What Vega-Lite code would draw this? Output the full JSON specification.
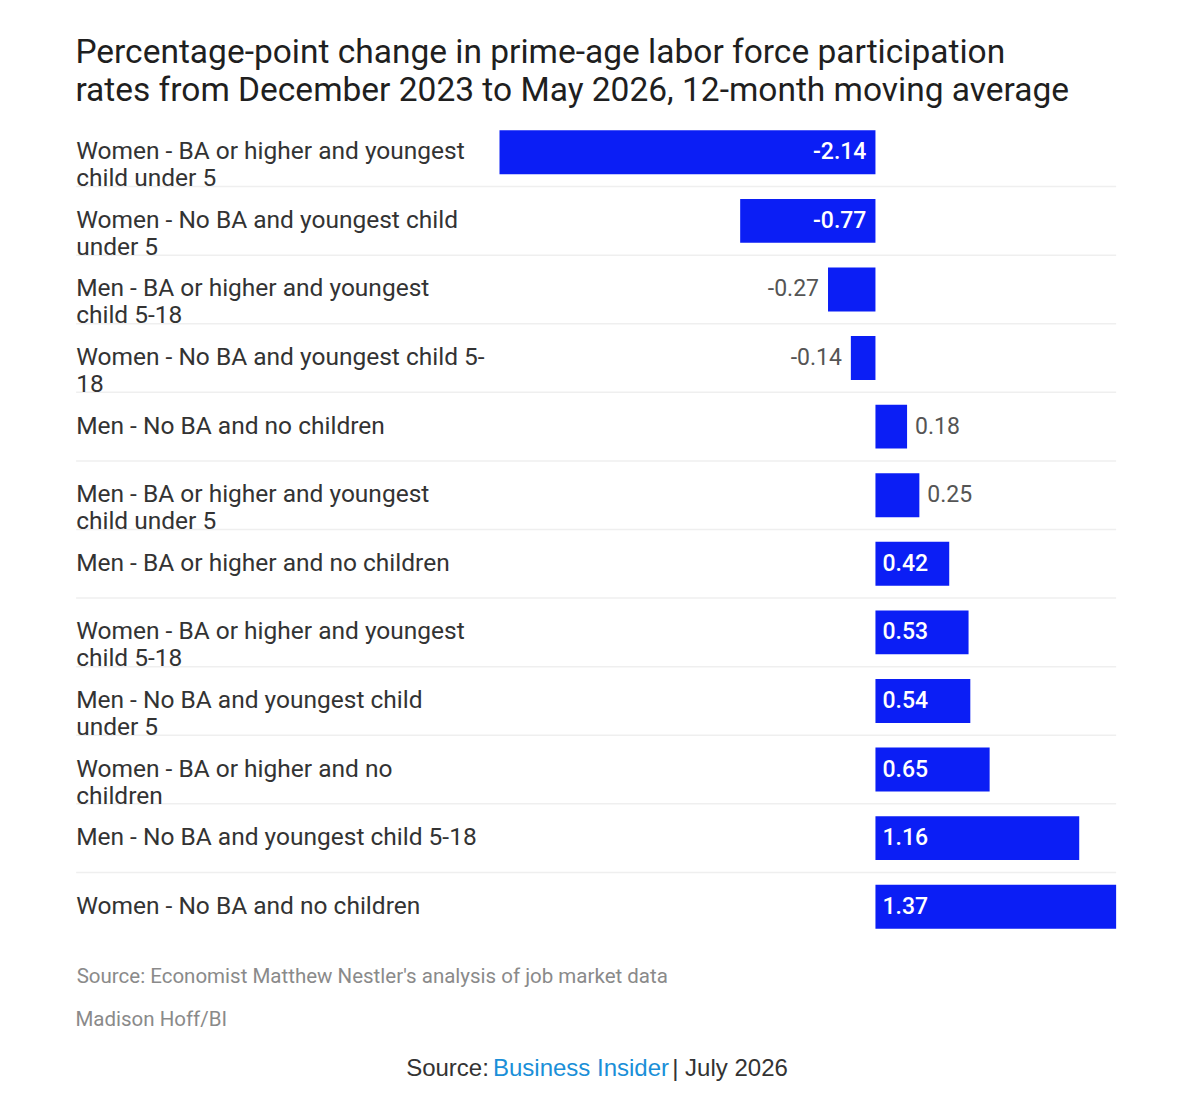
{
  "$schema": "https://vega.github.io/schema/vega-lite/v6.json",
  "background": "white",
  "padding": {"left": 75, "top": 35, "right": 71, "bottom": 10},
  "title": {
    "text": ["Percentage-point change in prime-age labor force participation", "rates from December 2023 to May 2026, 12-month moving average"],
    "anchor": "start",
    "font": "Roboto",
    "fontSize": 33.5,
    "fontWeight": "normal",
    "color": "#1f1f1f",
    "lineHeight": 38,
    "offset": 10
  },
  "center": true,
  "spacing": 24,
  "vconcat": [
    {
      "width": 1040,
      "height": 823,
      "data": {
        "values": [
          {"group": "Women - BA or higher and youngest\nchild under 5", "value": -2.14},
          {"group": "Women - No BA and youngest child\nunder 5", "value": -0.77},
          {"group": "Men - BA or higher and youngest\nchild 5-18", "value": -0.27},
          {"group": "Women - No BA and youngest child 5-\n18", "value": -0.14},
          {"group": "Men - No BA and no children", "value": 0.18},
          {"group": "Men - BA or higher and youngest\nchild under 5", "value": 0.25},
          {"group": "Men - BA or higher and no children", "value": 0.42},
          {"group": "Women - BA or higher and youngest\nchild 5-18", "value": 0.53},
          {"group": "Men - No BA and youngest child\nunder 5", "value": 0.54},
          {"group": "Women - BA or higher and no\nchildren", "value": 0.65},
          {"group": "Men - No BA and youngest child 5-18", "value": 1.16},
          {"group": "Women - No BA and no children", "value": 1.37}
        ]
      },
      "title": {
        "text": "Madison Hoff/BI",
        "orient": "bottom",
        "anchor": "start",
        "font": "Roboto",
        "fontSize": 20.5,
        "fontWeight": "normal",
        "color": "#8a8a8a",
        "offset": 23
      },
      "encoding": {
        "y": {
          "field": "group",
          "type": "nominal",
          "sort": null,
          "scale": {"paddingInner": 0, "paddingOuter": 0},
          "axis": null
        }
      },
      "layer": [
        {
          "transform": [{"filter": "datum.group !== 'Women - No BA and no children'"}],
          "mark": {"type": "rule", "color": "#efefef", "strokeWidth": 1.5},
          "encoding": {
            "y": {"field": "group", "type": "nominal", "sort": null, "bandPosition": 1}
          }
        },
        {
          "mark": {"type": "bar", "color": "#0b1ef5", "height": {"band": 0.64}},
          "encoding": {
            "x": {
              "field": "value",
              "type": "quantitative",
              "scale": {"domain": [-4.55, 1.37], "nice": false, "zero": false},
              "axis": {
                "labels": false,
                "ticks": false,
                "domain": false,
                "grid": false,
                "title": "Source: Economist Matthew Nestler's analysis of job market data",
                "titleAnchor": "start",
                "titleAlign": "left",
                "titleFont": "Roboto",
                "titleFontSize": 20.5,
                "titleFontWeight": "normal",
                "titleColor": "#8a8a8a",
                "titlePadding": 25
              }
            }
          }
        },
        {
          "mark": {"type": "rule", "color": "#6e6e6e", "strokeWidth": 2},
          "encoding": {"x": {"datum": 0}}
        },
        {
          "mark": {"type": "text", "align": "left", "baseline": "middle", "font": "Roboto", "fontSize": 24.5, "lineHeight": 27, "lineBreak": "\n", "color": "#333333"},
          "encoding": {
            "x": {"datum": -4.55},
            "text": {"field": "group", "type": "nominal"}
          }
        },
        {
          "transform": [{"filter": "datum.value < -0.5"}],
          "mark": {"type": "text", "align": "right", "baseline": "middle", "dx": -9, "font": "Roboto", "fontSize": 23, "fontWeight": 500, "color": "white"},
          "encoding": {
            "x": {"datum": 0},
            "text": {"field": "value", "type": "nominal"}
          }
        },
        {
          "transform": [{"filter": "datum.value >= -0.5 && datum.value < 0"}],
          "mark": {"type": "text", "align": "right", "baseline": "middle", "dx": -9, "font": "Roboto", "fontSize": 23, "color": "#555555"},
          "encoding": {
            "x": {"field": "value", "type": "quantitative"},
            "text": {"field": "value", "type": "nominal"}
          }
        },
        {
          "transform": [{"filter": "datum.value >= 0 && datum.value < 0.4"}],
          "mark": {"type": "text", "align": "left", "baseline": "middle", "dx": 8, "font": "Roboto", "fontSize": 23, "color": "#555555"},
          "encoding": {
            "x": {"field": "value", "type": "quantitative"},
            "text": {"field": "value", "type": "nominal"}
          }
        },
        {
          "transform": [{"filter": "datum.value >= 0.4"}],
          "mark": {"type": "text", "align": "left", "baseline": "middle", "dx": 7, "font": "Roboto", "fontSize": 23, "fontWeight": 500, "color": "white"},
          "encoding": {
            "x": {"datum": 0},
            "text": {"field": "value", "type": "nominal"}
          }
        }
      ]
    },
    {
      "spacing": 0,
      "hconcat": [
        {
          "width": 89,
          "height": 30,
          "data": {"values": [{"t": "Source:"}]},
          "mark": {"type": "text", "align": "center", "baseline": "middle", "font": "Liberation Sans", "fontSize": 24, "color": "#333333"},
          "encoding": {"text": {"field": "t", "type": "nominal"}}
        },
        {
          "width": 178,
          "height": 30,
          "data": {"values": [{"t": "Business Insider"}]},
          "mark": {"type": "text", "align": "center", "baseline": "middle", "font": "Liberation Sans", "fontSize": 24, "color": "#1a8fd8"},
          "encoding": {"text": {"field": "t", "type": "nominal"}}
        },
        {
          "width": 120,
          "height": 30,
          "data": {"values": [{"t": "| July 2026"}]},
          "mark": {"type": "text", "align": "center", "baseline": "middle", "font": "Liberation Sans", "fontSize": 24, "color": "#333333"},
          "encoding": {"text": {"field": "t", "type": "nominal"}}
        }
      ]
    }
  ],
  "config": {
    "view": {"stroke": null},
    "font": "Roboto"
  }
}
